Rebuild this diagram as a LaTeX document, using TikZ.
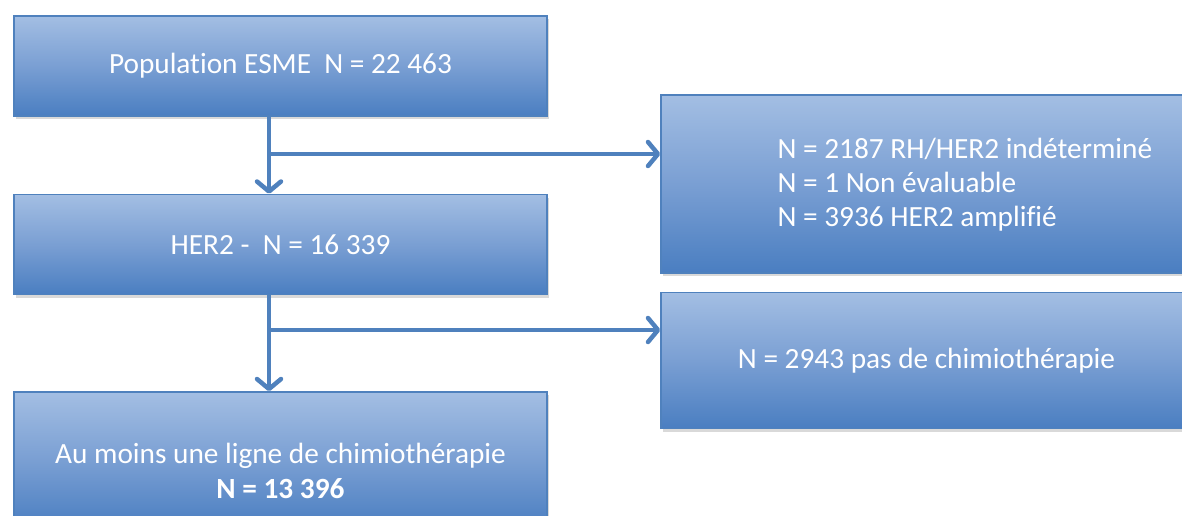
\documentclass[tikz,border=0pt]{standalone}
\usepackage{fontspec}
\setmainfont[Ligatures=NoCommon]{Carlito}
\usetikzlibrary{positioning, arrows.meta, shadows}
\definecolor{boxtop}{RGB}{163,190,227}
\definecolor{boxmid}{RGB}{122,159,211}
\definecolor{boxbot}{RGB}{74,126,193}
\definecolor{boxline}{RGB}{79,129,189}

\begin{document}
\begin{tikzpicture}[x=1pt, y=-1pt,
        stepbox/.style={draw=boxline, line width=1.5pt, top color=boxtop, bottom color=boxbot, middle color=boxmid,
            drop shadow={shadow xshift=2pt, shadow yshift=-3pt, opacity=0.25, fill=black!60},
            minimum width=533pt, minimum height=100pt, inner sep=0pt},
        boxtext/.style={text=white, font=\fontsize{29.3}{34}\selectfont},
        flow/.style={draw=boxline, line width=4.5pt, -{Straight Barb[round, length=10pt, width=24pt]}}]
        \useasboundingbox (0,0) rectangle (1182,515);

        % Draw the boxes of the main column
        \node[stepbox, boxtext] (esme) at (280.5,66) {Population ESME~~N = 22 463};
        \node[stepbox, boxtext, below=77pt of esme] (her2) {HER2 -~~N = 16 339};
        \node[stepbox, minimum height=136pt, below=96pt of her2] (chimio) {};
        \node[boxtext, align=center] (chimiotext) at ([yshift=-11pt]chimio.center)
            {Au moins une ligne de chimiothérapie\\[1pt] \textbf{N = 13 396}};

        % Draw the boxes of the excluded patients
        \node[stepbox, minimum width=531pt, minimum height=178pt] (excl) at (926.5,184) {};
        \node[boxtext, anchor=west, align=left] (excltext) at (774,185)
            {N = 2187 RH/HER2 indéterminé\\ N = 1 Non évaluable\\ N = 3936 HER2 amplifié};
        \node[stepbox, boxtext, minimum width=531pt, minimum height=136pt, below=18pt of excl] (nochimio)
            {N = 2943 pas de chimiothérapie};

        % Draw the arrows
        \coordinate (split1) at (269,154);
        \coordinate (split2) at (269,330);
        \draw[flow] (esme.south -| split1) -- (her2.north -| split1);
        \draw[flow] (split1) -- (excl.west |- split1);
        \draw[flow] (her2.south -| split2) -- (chimio.north -| split2);
        \draw[flow] (split2) -- (nochimio.west |- split2);
    \end{tikzpicture}
\end{document}
